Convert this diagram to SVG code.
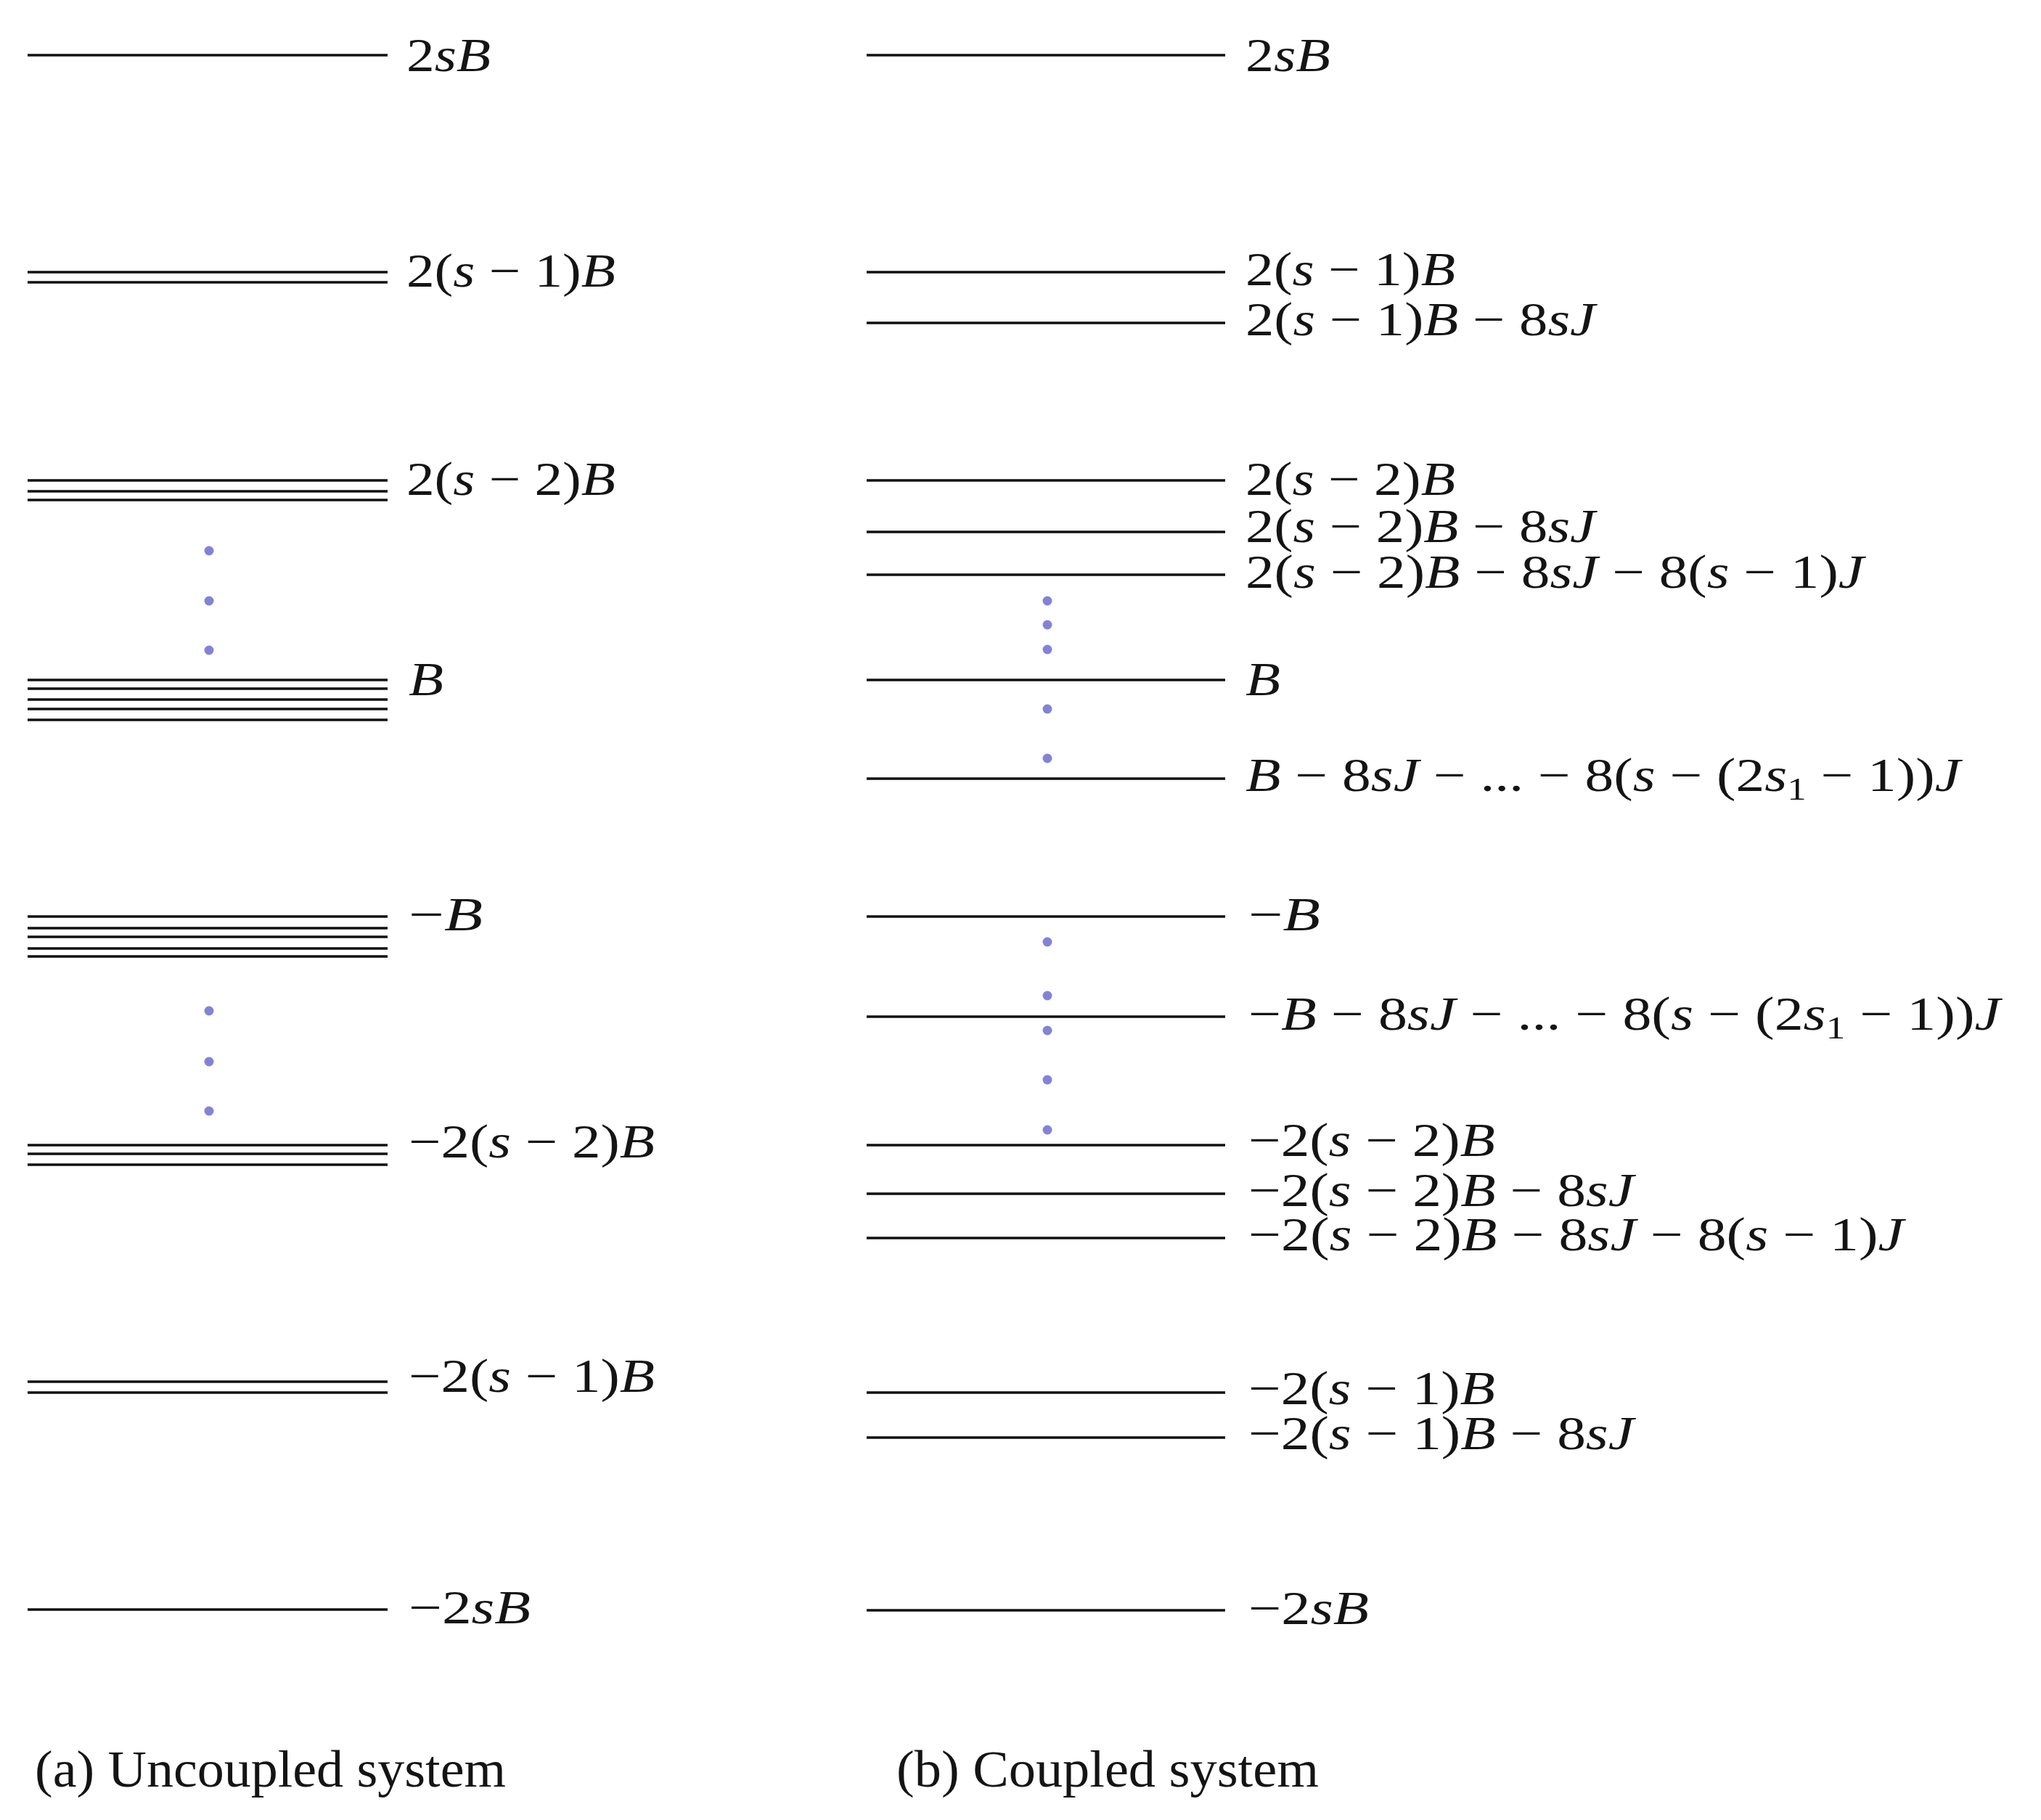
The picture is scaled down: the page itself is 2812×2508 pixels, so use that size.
<svg xmlns="http://www.w3.org/2000/svg" width="2812" height="2508" viewBox="0 0 2812 2508">
<style>
.lvl{stroke:#111111;stroke-width:3.5;fill:none}
.lbl{font-family:"Liberation Serif",serif;font-size:66px;fill:#141414}
.i{font-style:italic}
.sub{font-size:44px}
.dot{fill:#8383d6}
.cap{font-family:"Liberation Serif",serif;font-size:72px;fill:#141414}
</style>
<rect width="2812" height="2508" fill="#ffffff"/>

<g id="uncoupled">
  <g id="a-2sB">
    <line class="lvl" x1="38" y1="76" x2="534" y2="76"/>
    <text class="lbl" x="560" y="98" textLength="116" lengthAdjust="spacingAndGlyphs">2<tspan class="i">sB</tspan></text>
  </g>
  <g id="a-2s-1B">
    <line class="lvl" x1="38" y1="375" x2="534" y2="375"/>
    <line class="lvl" x1="38" y1="389" x2="534" y2="389"/>
    <text class="lbl" x="560" y="395" textLength="288" lengthAdjust="spacingAndGlyphs">2(<tspan class="i">s</tspan> − 1)<tspan class="i">B</tspan></text>
  </g>
  <g id="a-2s-2B">
    <line class="lvl" x1="38" y1="662" x2="534" y2="662"/>
    <line class="lvl" x1="38" y1="677" x2="534" y2="677"/>
    <line class="lvl" x1="38" y1="689" x2="534" y2="689"/>
    <text class="lbl" x="560" y="682" textLength="288" lengthAdjust="spacingAndGlyphs">2(<tspan class="i">s</tspan> − 2)<tspan class="i">B</tspan></text>
  </g>
  <g id="a-dots1">
    <circle class="dot" cx="288" cy="759" r="6.5"/>
    <circle class="dot" cx="288" cy="828" r="6.5"/>
    <circle class="dot" cx="288" cy="896" r="6.5"/>
  </g>
  <g id="a-B">
    <line class="lvl" x1="38" y1="937" x2="534" y2="937"/>
    <line class="lvl" x1="38" y1="949" x2="534" y2="949"/>
    <line class="lvl" x1="38" y1="964" x2="534" y2="964"/>
    <line class="lvl" x1="38" y1="977" x2="534" y2="977"/>
    <line class="lvl" x1="38" y1="992" x2="534" y2="992"/>
    <text class="lbl" x="563" y="958" textLength="48" lengthAdjust="spacingAndGlyphs"><tspan class="i">B</tspan></text>
  </g>
  <g id="a-mB">
    <line class="lvl" x1="38" y1="1263" x2="534" y2="1263"/>
    <line class="lvl" x1="38" y1="1279" x2="534" y2="1279"/>
    <line class="lvl" x1="38" y1="1291" x2="534" y2="1291"/>
    <line class="lvl" x1="38" y1="1307" x2="534" y2="1307"/>
    <line class="lvl" x1="38" y1="1318" x2="534" y2="1318"/>
    <text class="lbl" x="563" y="1282" textLength="102" lengthAdjust="spacingAndGlyphs">−<tspan class="i">B</tspan></text>
  </g>
  <g id="a-dots2">
    <circle class="dot" cx="288" cy="1393" r="6.5"/>
    <circle class="dot" cx="288" cy="1463" r="6.5"/>
    <circle class="dot" cx="288" cy="1531" r="6.5"/>
  </g>
  <g id="a-m2s-2B">
    <line class="lvl" x1="38" y1="1578" x2="534" y2="1578"/>
    <line class="lvl" x1="38" y1="1590" x2="534" y2="1590"/>
    <line class="lvl" x1="38" y1="1605" x2="534" y2="1605"/>
    <text class="lbl" x="563" y="1595" textLength="339" lengthAdjust="spacingAndGlyphs">−2(<tspan class="i">s</tspan> − 2)<tspan class="i">B</tspan></text>
  </g>
  <g id="a-m2s-1B">
    <line class="lvl" x1="38" y1="1904" x2="534" y2="1904"/>
    <line class="lvl" x1="38" y1="1919" x2="534" y2="1919"/>
    <text class="lbl" x="563" y="1918" textLength="339" lengthAdjust="spacingAndGlyphs">−2(<tspan class="i">s</tspan> − 1)<tspan class="i">B</tspan></text>
  </g>
  <g id="a-m2sB">
    <line class="lvl" x1="38" y1="2218" x2="534" y2="2218"/>
    <text class="lbl" x="563" y="2237" textLength="168" lengthAdjust="spacingAndGlyphs">−2<tspan class="i">sB</tspan></text>
  </g>
  <g id="a-caption">
    <text class="cap" x="48" y="2462" textLength="649" lengthAdjust="spacingAndGlyphs">(a) Uncoupled system</text>
  </g>
</g>

<g id="coupled">
  <g id="b-2sB">
    <line class="lvl" x1="1194" y1="76" x2="1688" y2="76"/>
    <text class="lbl" x="1716" y="98" textLength="117" lengthAdjust="spacingAndGlyphs">2<tspan class="i">sB</tspan></text>
  </g>
  <g id="b-2s-1B">
    <line class="lvl" x1="1194" y1="375" x2="1688" y2="375"/>
    <text class="lbl" x="1716" y="393" textLength="289" lengthAdjust="spacingAndGlyphs">2(<tspan class="i">s</tspan> − 1)<tspan class="i">B</tspan></text>
  </g>
  <g id="b-2s-1B-8sJ">
    <line class="lvl" x1="1194" y1="445" x2="1688" y2="445"/>
    <text class="lbl" x="1716" y="462" textLength="482" lengthAdjust="spacingAndGlyphs">2(<tspan class="i">s</tspan> − 1)<tspan class="i">B</tspan> − 8<tspan class="i">sJ</tspan></text>
  </g>
  <g id="b-2s-2B">
    <line class="lvl" x1="1194" y1="662" x2="1688" y2="662"/>
    <text class="lbl" x="1716" y="682" textLength="289" lengthAdjust="spacingAndGlyphs">2(<tspan class="i">s</tspan> − 2)<tspan class="i">B</tspan></text>
  </g>
  <g id="b-2s-2B-8sJ">
    <line class="lvl" x1="1194" y1="733" x2="1688" y2="733"/>
    <text class="lbl" x="1716" y="747" textLength="482" lengthAdjust="spacingAndGlyphs">2(<tspan class="i">s</tspan> − 2)<tspan class="i">B</tspan> − 8<tspan class="i">sJ</tspan></text>
  </g>
  <g id="b-2s-2B-8sJ-8s-1J">
    <line class="lvl" x1="1194" y1="792" x2="1688" y2="792"/>
    <text class="lbl" x="1716" y="810" textLength="852" lengthAdjust="spacingAndGlyphs">2(<tspan class="i">s</tspan> − 2)<tspan class="i">B</tspan> − 8<tspan class="i">sJ</tspan> − 8(<tspan class="i">s</tspan> − 1)<tspan class="i">J</tspan></text>
  </g>
  <g id="b-dots1">
    <circle class="dot" cx="1443" cy="828" r="6.5"/>
    <circle class="dot" cx="1443" cy="861" r="6.5"/>
    <circle class="dot" cx="1443" cy="895" r="6.5"/>
  </g>
  <g id="b-B">
    <line class="lvl" x1="1194" y1="937" x2="1688" y2="937"/>
    <text class="lbl" x="1716" y="958" textLength="48" lengthAdjust="spacingAndGlyphs"><tspan class="i">B</tspan></text>
  </g>
  <g id="b-dots2">
    <circle class="dot" cx="1443" cy="977" r="6.5"/>
    <circle class="dot" cx="1443" cy="1045" r="6.5"/>
  </g>
  <g id="b-B-series">
    <line class="lvl" x1="1194" y1="1073" x2="1688" y2="1073"/>
    <text class="lbl" x="1716" y="1090" textLength="985" lengthAdjust="spacingAndGlyphs"><tspan class="i">B</tspan> − 8<tspan class="i">sJ</tspan> − ... − 8(<tspan class="i">s</tspan> − (2<tspan class="i">s</tspan><tspan class="sub" dy="12">1</tspan><tspan dy="-12"> − 1))</tspan><tspan class="i">J</tspan></text>
  </g>
  <g id="b-mB">
    <line class="lvl" x1="1194" y1="1263" x2="1688" y2="1263"/>
    <text class="lbl" x="1720" y="1282" textLength="99" lengthAdjust="spacingAndGlyphs">−<tspan class="i">B</tspan></text>
  </g>
  <g id="b-dots3">
    <circle class="dot" cx="1443" cy="1298" r="6.5"/>
    <circle class="dot" cx="1443" cy="1372" r="6.5"/>
    <circle class="dot" cx="1443" cy="1420" r="6.5"/>
    <circle class="dot" cx="1443" cy="1488" r="6.5"/>
    <circle class="dot" cx="1443" cy="1557" r="6.5"/>
  </g>
  <g id="b-mB-series">
    <line class="lvl" x1="1194" y1="1401" x2="1688" y2="1401"/>
    <text class="lbl" x="1720" y="1419" textLength="1036" lengthAdjust="spacingAndGlyphs">−<tspan class="i">B</tspan> − 8<tspan class="i">sJ</tspan> − ... − 8(<tspan class="i">s</tspan> − (2<tspan class="i">s</tspan><tspan class="sub" dy="12">1</tspan><tspan dy="-12"> − 1))</tspan><tspan class="i">J</tspan></text>
  </g>
  <g id="b-m2s-2B">
    <line class="lvl" x1="1194" y1="1578" x2="1688" y2="1578"/>
    <text class="lbl" x="1720" y="1593" textLength="340" lengthAdjust="spacingAndGlyphs">−2(<tspan class="i">s</tspan> − 2)<tspan class="i">B</tspan></text>
  </g>
  <g id="b-m2s-2B-8sJ">
    <line class="lvl" x1="1194" y1="1645" x2="1688" y2="1645"/>
    <text class="lbl" x="1720" y="1662" textLength="531" lengthAdjust="spacingAndGlyphs">−2(<tspan class="i">s</tspan> − 2)<tspan class="i">B</tspan> − 8<tspan class="i">sJ</tspan></text>
  </g>
  <g id="b-m2s-2B-8sJ-8s-1J">
    <line class="lvl" x1="1194" y1="1706" x2="1688" y2="1706"/>
    <text class="lbl" x="1720" y="1723" textLength="903" lengthAdjust="spacingAndGlyphs">−2(<tspan class="i">s</tspan> − 2)<tspan class="i">B</tspan> − 8<tspan class="i">sJ</tspan> − 8(<tspan class="i">s</tspan> − 1)<tspan class="i">J</tspan></text>
  </g>
  <g id="b-m2s-1B">
    <line class="lvl" x1="1194" y1="1919" x2="1688" y2="1919"/>
    <text class="lbl" x="1720" y="1935" textLength="340" lengthAdjust="spacingAndGlyphs">−2(<tspan class="i">s</tspan> − 1)<tspan class="i">B</tspan></text>
  </g>
  <g id="b-m2s-1B-8sJ">
    <line class="lvl" x1="1194" y1="1981" x2="1688" y2="1981"/>
    <text class="lbl" x="1720" y="1997" textLength="531" lengthAdjust="spacingAndGlyphs">−2(<tspan class="i">s</tspan> − 1)<tspan class="i">B</tspan> − 8<tspan class="i">sJ</tspan></text>
  </g>
  <g id="b-m2sB">
    <line class="lvl" x1="1194" y1="2219" x2="1688" y2="2219"/>
    <text class="lbl" x="1720" y="2238" textLength="166" lengthAdjust="spacingAndGlyphs">−2<tspan class="i">sB</tspan></text>
  </g>
  <g id="b-caption">
    <text class="cap" x="1235" y="2462" textLength="582" lengthAdjust="spacingAndGlyphs">(b) Coupled system</text>
  </g>
</g>

<g id="connectors"></g>
</svg>
